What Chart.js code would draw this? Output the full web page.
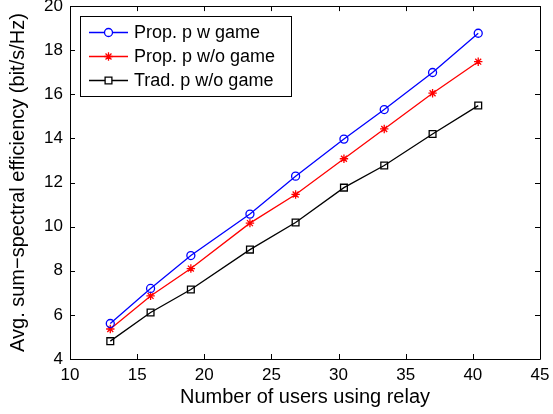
<!DOCTYPE html>
<html>
<head>
<meta charset="utf-8">
<script src="https://cdn.jsdelivr.net/npm/chart.js@4/dist/chart.umd.min.js"></script>
<style>
  html, body { margin: 0; padding: 0; background: #fff; overflow: hidden; }
  #wrap { width: 553px; height: 414px; position: relative; }
</style>
</head>
<body>
<div id="wrap"><canvas id="chart"></canvas></div>
<script>
// users using relay (x) and the three curves
const users = [13, 16, 19, 23.4, 26.8, 30.4, 33.4, 37, 40.4];
const propWithGame = [5.61, 7.2, 8.69, 10.57, 12.29, 13.97, 15.31, 16.99, 18.77];
const propNoGame = [5.36, 6.86, 8.1, 10.16, 11.46, 13.08, 14.43, 16.05, 17.48];
const tradNoGame = [4.81, 6.11, 7.15, 8.96, 10.19, 11.77, 12.77, 14.2, 15.49];
const seriesNames = ['Prop. p w game', 'Prop. p w/o game', 'Trad. p w/o game'];
const xTicks = [10, 15, 20, 25, 30, 35, 40, 45];
const yTicks = [4, 6, 8, 10, 12, 14, 16, 18, 20];

const FONT = "'Liberation Sans', Arial, Helvetica, sans-serif";

const toPoints = ys => ys.map((y, i) => ({ x: users[i], y: y }));

const styles = [
  { color: '#0000ff', pointStyle: 'circle', radius: 4 },
  { color: '#ff0000', pointStyle: 'star', radius: 4.2 },
  { color: '#000000', pointStyle: 'rect', radius: 4.8 }
];
const values = [propWithGame, propNoGame, tradNoGame];

// box round the plot with ticks pointing inwards on all sides
const framePlugin = {
  id: 'frame',
  afterDraw(chart) {
    const { ctx, chartArea: a, scales } = chart;
    ctx.save();
    ctx.strokeStyle = '#000';
    ctx.lineWidth = 1;
    ctx.beginPath();
    ctx.rect(Math.round(a.left) + 0.5, Math.round(a.top) + 0.5,
             Math.round(a.right - a.left), Math.round(a.bottom - a.top));
    const len = 5;
    xTicks.forEach(v => {
      const px = Math.round(scales.x.getPixelForValue(v)) + 0.5;
      ctx.moveTo(px, a.bottom); ctx.lineTo(px, a.bottom - len);
      ctx.moveTo(px, a.top); ctx.lineTo(px, a.top + len);
    });
    yTicks.forEach(v => {
      const py = Math.round(scales.y.getPixelForValue(v)) + 0.5;
      ctx.moveTo(a.left, py); ctx.lineTo(a.left + len, py);
      ctx.moveTo(a.right, py); ctx.lineTo(a.right - len, py);
    });
    ctx.stroke();
    ctx.restore();
  }
};

// matlab-like legend box in the upper left corner
const legendPlugin = {
  id: 'boxLegend',
  afterDraw(chart) {
    const { ctx } = chart;
    const bx = 80.5, by = 16.5, bw = 211, bh = 80;
    ctx.save();
    ctx.fillStyle = '#fff';
    ctx.fillRect(bx, by, bw, bh);
    ctx.strokeStyle = '#000';
    ctx.lineWidth = 1;
    ctx.strokeRect(bx, by, bw, bh);
    ctx.font = '18px ' + FONT;
    ctx.textBaseline = 'middle';
    ctx.textAlign = 'left';
    seriesNames.forEach((name, i) => {
      const y = by + 16 + i * 24;
      const st = styles[i];
      ctx.strokeStyle = st.color;
      ctx.lineWidth = 1.3;
      ctx.beginPath();
      ctx.moveTo(89, y); ctx.lineTo(128, y);
      ctx.stroke();
      ctx.fillStyle = '#fff';
      Chart.helpers.drawPoint(ctx, {
        pointStyle: st.pointStyle, radius: st.radius, rotation: 0, borderWidth: 1.3
      }, 108.5, y);
      ctx.fillStyle = '#000';
      ctx.fillText(name, 134, y + 1);
    });
    ctx.restore();
  }
};

new Chart(document.getElementById('chart'), {
  type: 'scatter',
  data: {
    datasets: values.map((ys, i) => ({
      label: seriesNames[i],
      data: toPoints(ys),
      showLine: true,
      borderColor: styles[i].color,
      backgroundColor: 'rgba(0,0,0,0)',
      borderWidth: 1.3,
      pointStyle: styles[i].pointStyle,
      pointRadius: styles[i].radius,
      pointHoverRadius: styles[i].radius,
      pointBorderColor: styles[i].color,
      pointBackgroundColor: 'rgba(0,0,0,0)',
      pointBorderWidth: 1.3,
      tension: 0,
      clip: false
    }))
  },
  options: {
    responsive: true,
    maintainAspectRatio: false,
    animation: false,
    layout: { padding: { left: 0, right: 13, top: 5, bottom: 0 } },
    plugins: {
      legend: { display: false },
      tooltip: { enabled: false }
    },
    scales: {
      x: {
        type: 'linear',
        min: 10, max: 45,
        afterBuildTicks: s => { s.ticks = xTicks.map(v => ({ value: v })); },
        afterFit: s => { s.height = 55; s.paddingLeft = 0; s.paddingRight = 0; },
        grid: { display: false, drawTicks: false },
        border: { display: false },
        ticks: { color: '#000', font: { family: FONT, size: 17 }, padding: 6, maxRotation: 0 },
        title: {
          display: true, text: 'Number of users using relay', color: '#000',
          font: { family: FONT, size: 20, lineHeight: 1 }, padding: { top: 0, bottom: 7 }
        }
      },
      y: {
        type: 'linear',
        min: 4, max: 20,
        afterBuildTicks: s => { s.ticks = yTicks.map(v => ({ value: v })); },
        afterFit: s => { s.width = 70; s.paddingTop = 0; s.paddingBottom = 0; },
        grid: { display: false, drawTicks: false },
        border: { display: false },
        ticks: { color: '#000', font: { family: FONT, size: 17 }, padding: 7 },
        title: {
          display: true, text: 'Avg. sum\u2212spectral efficiency (bit/s/Hz)', color: '#000',
          font: { family: FONT, size: 20, lineHeight: 1 }, padding: { top: 8, bottom: 0 }
        }
      }
    }
  },
  plugins: [framePlugin, legendPlugin]
});
</script>
</body>
</html>
